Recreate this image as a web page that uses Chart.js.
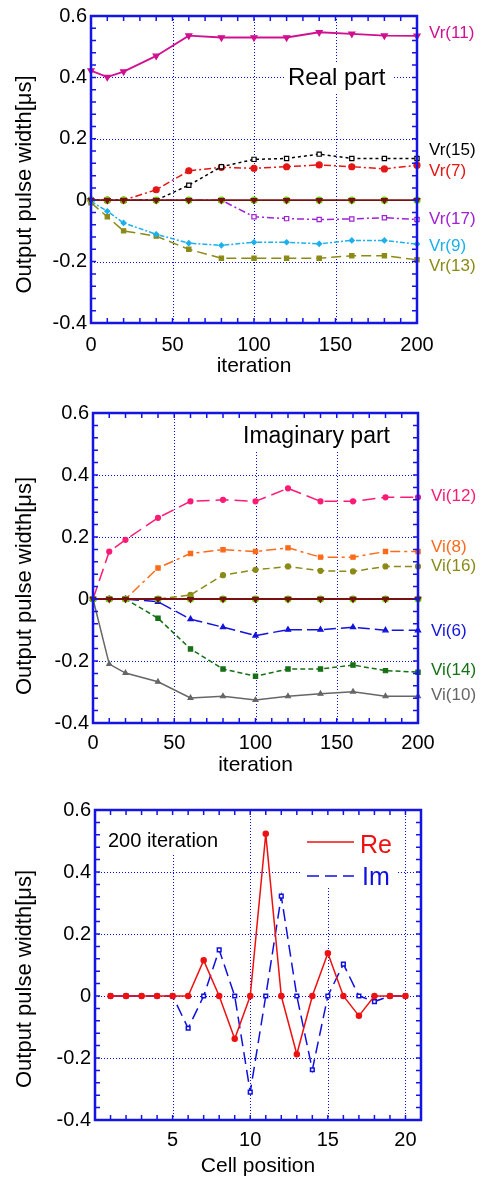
<!DOCTYPE html>
<html><head><meta charset="utf-8">
<script src="https://cdn.jsdelivr.net/npm/chart.js@4.4.1/dist/chart.umd.min.js"></script>
<style>
html,body{margin:0;padding:0;background:#fff;}
#wrap{position:relative;width:484px;height:1181px;overflow:hidden;background:#fff;}
.box{position:absolute;left:0;width:484px;}
</style></head><body>
<div id="wrap">
<div class="box" style="top:0;height:390px"><canvas id="c1"></canvas></div>
<div class="box" style="top:390px;height:400px"><canvas id="c2"></canvas></div>
<div class="box" style="top:790px;height:391px"><canvas id="c3"></canvas></div>
</div>
<script>
// ---------- data ----------
const iterations = [0,10,20,40,60,80,100,120,140,160,180,200];
const vr11 = [0.422,0.401,0.419,0.470,0.536,0.530,0.530,0.530,0.547,0.542,0.536,0.535];
const vr15 = [0,0,0,0,0.049,0.109,0.133,0.136,0.150,0.136,0.136,0.136];
const vr7  = [0,0,0,0.034,0.096,0.107,0.104,0.109,0.115,0.109,0.102,0.114];
const vr17 = [0,0,0,0,0,0,-0.054,-0.060,-0.063,-0.061,-0.057,-0.063];
const vr9  = [-0.004,-0.036,-0.074,-0.111,-0.140,-0.147,-0.137,-0.137,-0.142,-0.131,-0.131,-0.143];
const vr13 = [-0.008,-0.054,-0.100,-0.117,-0.160,-0.189,-0.189,-0.189,-0.189,-0.181,-0.181,-0.194];
const vrZero = [0,0,0,0,0,0,0,0,0,0,0,0];

const vi12 = [0,0.153,0.191,0.262,0.315,0.320,0.315,0.357,0.315,0.315,0.328,0.328];
const vi8  = [0,0,0,0.100,0.147,0.159,0.153,0.165,0.135,0.135,0.153,0.153];
const vi16 = [0,0,0,0,0.013,0.077,0.094,0.105,0.091,0.089,0.105,0.105];
const vi6  = [0,0,0,-0.009,-0.065,-0.091,-0.118,-0.099,-0.099,-0.091,-0.101,-0.101];
const vi14 = [0,0,0,-0.062,-0.161,-0.226,-0.249,-0.226,-0.226,-0.213,-0.231,-0.236];
const vi10 = [0,-0.210,-0.239,-0.267,-0.319,-0.314,-0.326,-0.314,-0.306,-0.299,-0.314,-0.314];
const viZero = [0,0,0,0,0,0,0,0,0,0,0,0];

const cells = [1,2,3,4,5,6,7,8,9,10,11,12,13,14,15,16,17,18,19,20];
const re200 = [0,0,0,0,0,0,0.115,0,-0.138,0,0.523,0,-0.188,0,0.138,0,-0.064,0,0,0];
const im200 = [0,0,0,0,0,-0.104,0,0.149,0,-0.310,0,0.322,0,-0.238,0,0.103,0,-0.018,0,0];

const yTicks = [-0.4,-0.2,0,0.2,0.4,0.6];
const iterTicks = [0,50,100,150,200];
const cellTicks = [5,10,15,20];

const realLabels = ['Vr(11)','Vr(15)','Vr(7)','Vr(17)','Vr(9)','Vr(13)'];
const realLabelY = [0.544,0.164,0.094,-0.063,-0.151,-0.216];
const imagLabels = ['Vi(12)','Vi(8)','Vi(16)','Vi(6)','Vi(14)','Vi(10)'];
const imagLabelY = [0.332,0.168,0.106,-0.103,-0.229,-0.310];

// ---------- style ----------
const FONT = "'Liberation Sans', Arial, Helvetica, sans-serif";
const FRAME = '#1414e6';
const GRID = '#0000ff';
Chart.defaults.font.family = FONT;
Chart.defaults.color = '#000';

function pts(xs, ys){ return xs.map((x,i)=>({x:x, y:ys[i]})); }
function fmt(v){ const n = Math.round(v*10)/10; return n===0 ? '0' : String(n); }

function ds(label, ys, color, opt){
  return Object.assign({
    label: label, data: pts(iterations, ys), borderColor: color, backgroundColor: color,
    pointBackgroundColor: color, pointBorderColor: color, borderWidth: 1.5,
    pointRadius: 3, pointBorderWidth: 1.2, pointStyle: 'circle', clip: false, order: 2
  }, opt||{});
}

function makeDeco(cfg){
  return {
    id: 'deco',
    beforeDatasetsDraw(chart){
      const {ctx, chartArea:a, scales:{x, y}} = chart;
      ctx.save();
      ctx.strokeStyle = GRID; ctx.lineWidth = 1; ctx.setLineDash([1,2]);
      cfg.xGrid.forEach(v=>{
        const p = Math.round(x.getPixelForValue(v)) + 0.5;
        ctx.beginPath(); ctx.moveTo(p, a.top); ctx.lineTo(p, a.bottom); ctx.stroke();
      });
      yTicks.slice(1,-1).forEach(v=>{
        const p = Math.round(y.getPixelForValue(v)) + 0.5;
        ctx.beginPath(); ctx.moveTo(a.left, p); ctx.lineTo(a.right, p); ctx.stroke();
      });
      ctx.setLineDash([]);
      (cfg.boxes||[]).forEach(b=>{ ctx.fillStyle = '#fff'; ctx.fillRect(b[0], b[1], b[2], b[3]); });
      (cfg.texts||[]).forEach(t=>{
        ctx.font = t.size + 'px ' + FONT; ctx.fillStyle = t.color || '#000';
        ctx.textAlign = 'left'; ctx.textBaseline = 'alphabetic';
        ctx.fillText(t.text, t.x, t.y);
      });
      ctx.restore();
    },
    afterDatasetsDraw(chart){
      const {ctx, chartArea:a, scales:{x, y}} = chart;
      ctx.save();
      ctx.strokeStyle = FRAME; ctx.lineWidth = 1.5;
      const L = 5;
      for (let v = x.min; v <= x.max + 1e-9; v += cfg.xMinor){
        const p = x.getPixelForValue(v);
        ctx.beginPath(); ctx.moveTo(p, a.bottom); ctx.lineTo(p, a.bottom - L);
        ctx.moveTo(p, a.top); ctx.lineTo(p, a.top + L); ctx.stroke();
      }
      for (let v = y.min; v <= y.max + 1e-9; v += 0.04){
        const p = y.getPixelForValue(v);
        ctx.beginPath(); ctx.moveTo(a.left, p); ctx.lineTo(a.left + L, p);
        ctx.moveTo(a.right, p); ctx.lineTo(a.right - L, p); ctx.stroke();
      }
      ctx.lineWidth = 2.5;
      ctx.strokeRect(a.left, a.top, a.right - a.left, a.bottom - a.top);
      ctx.restore();
    },
    afterDraw(chart){
      const {ctx, chartArea:a, scales:{y}} = chart;
      ctx.save();
      // y-axis title
      ctx.translate(25, (a.top + a.bottom)/2 + cfg.titleShift);
      ctx.rotate(-Math.PI/2);
      ctx.font = '22px ' + FONT; ctx.fillStyle = '#000';
      ctx.textAlign = 'center'; ctx.textBaseline = 'middle';
      ctx.fillText('Output pulse width[\u03bcs]', 0, 0);
      ctx.restore();
      // right-side series labels
      if (cfg.labels){
        ctx.save();
        ctx.font = '17px ' + FONT; ctx.textAlign = 'left'; ctx.textBaseline = 'middle';
        cfg.labels.forEach((lab, i)=>{
          ctx.fillStyle = cfg.labelColors[i];
          ctx.fillText(lab, a.right + cfg.labelGap, y.getPixelForValue(cfg.labelY[i]));
        });
        ctx.restore();
      }
      // inner legend
      if (cfg.legend){
        ctx.save();
        cfg.legend.forEach(l=>{
          const d = chart.data.datasets[l.ds];
          ctx.strokeStyle = d.borderColor; ctx.lineWidth = 1.5;
          ctx.setLineDash(d.borderDash || []);
          ctx.beginPath(); ctx.moveTo(l.x0, l.y); ctx.lineTo(l.x1, l.y); ctx.stroke();
          ctx.setLineDash([]);
          ctx.font = '25px ' + FONT; ctx.fillStyle = d.borderColor;
          ctx.textAlign = 'left'; ctx.textBaseline = 'alphabetic';
          ctx.fillText(d.label, l.tx, l.ty);
        });
        ctx.restore();
      }
    }
  };
}

function scalesCfg(xOpt){
  return {
    x: Object.assign({
      type: 'linear',
      grid: {display:false, drawTicks:false}, border: {display:false},
      ticks: {font:{size:20}, color:'#000', maxRotation:0, autoSkip:false, padding: xOpt.tickPad, callback: v=>String(v)},
      title: {display:true, text: xOpt.title, font:{size:21}, color:'#000', padding:{top:0, bottom: xOpt.titlePad}},
      afterBuildTicks: s => { s.ticks = xOpt.ticks.map(v=>({value:v})); },
      afterFit: s => { s.height = xOpt.height; }
    }, {min: xOpt.min, max: xOpt.max}),
    y: {
      min: -0.4, max: 0.6,
      grid: {display:false, drawTicks:false}, border: {display:false},
      ticks: {font:{size:20}, color:'#000', padding: 4, callback: v=>fmt(v)},
      afterBuildTicks: s => { s.ticks = yTicks.map(v=>({value:v})); },
      afterFit: s => { s.width = xOpt.yWidth; }
    }
  };
}

function baseOptions(pad, xOpt){
  return {
    responsive: true, maintainAspectRatio: false, animation: false, devicePixelRatio: 1,
    layout: {padding: pad},
    plugins: {legend:{display:false}, tooltip:{enabled:false}},
    scales: scalesCfg(xOpt)
  };
}

const OPEN = '#ffffff';

// ---------- chart 1: real part ----------
new Chart(document.getElementById('c1'), {
  type: 'line',
  data: { datasets: [
    ds('Vr(11)', vr11, '#d1108f', {pointStyle:'triangle', pointRotation:180, pointRadius:3.5, borderWidth:1.8}),
    ds('Vr(15)', vr15, '#000000', {borderDash:[3,3], pointStyle:'rect', pointBackgroundColor:OPEN}),
    ds('Vr(7)',  vr7,  '#e41616', {borderDash:[7,3,2,3]}),
    ds('Vr(17)', vr17, '#9f22d4', {borderDash:[7,3,2,3], pointStyle:'rect', pointBackgroundColor:OPEN}),
    ds('Vr(9)',  vr9,  '#1cb0ec', {borderDash:[5,2,2,2], pointStyle:'rectRot', pointRadius:2.5}),
    ds('Vr(13)', vr13, '#8c8a16', {borderDash:[10,5], pointStyle:'rect'}),
    ds('zero-g', vrZero, '#66d400', {showLine:false, pointRadius:3, order:1}),
    ds('zero',   vrZero, '#7a1010', {pointStyle:'triangle', pointRotation:180, pointRadius:3.2, borderWidth:1.8, order:0})
  ]},
  options: baseOptions({left:0, right:67, top:15, bottom:0},
    {min:0, max:200, ticks:iterTicks, title:'iteration', tickPad:10, titlePad:11, height:67, yWidth:91}),
  plugins: [makeDeco({
    xGrid:[50,100,150], xMinor:10, titleShift:15,
    boxes:[[284,62,110,31]],
    texts:[{text:'Real part', x:288, y:85, size:24}],
    labels: realLabels, labelY: realLabelY, labelGap: 12,
    labelColors: ['#d1108f','#000000','#e41616','#9f22d4','#1cb0ec','#8c8a16']
  })]
});

// ---------- chart 2: imaginary part ----------
new Chart(document.getElementById('c2'), {
  type: 'line',
  data: { datasets: [
    ds('Vi(12)', vi12, '#ff1a75', {borderDash:[13,6], pointRadius:2.5}),
    ds('Vi(8)',  vi8,  '#ff6a1a', {borderDash:[10,4,3,4], pointStyle:'rect'}),
    ds('Vi(16)', vi16, '#8c8a16', {borderDash:[7,4], pointRadius:2.5}),
    ds('Vi(6)',  vi6,  '#1212dc', {borderDash:[12,5], pointStyle:'triangle'}),
    ds('Vi(14)', vi14, '#167016', {borderDash:[5,3], pointStyle:'rect'}),
    ds('Vi(10)', vi10, '#666666', {pointStyle:'triangle', pointRadius:2.8}),
    ds('zero-g', viZero, '#66d400', {showLine:false, pointRadius:3, order:1}),
    ds('zero',   viZero, '#7a1010', {pointStyle:'triangle', pointRotation:180, pointRadius:3.2, borderWidth:1.8, order:0})
  ]},
  options: baseOptions({left:0, right:66, top:23, bottom:0},
    {min:0, max:200, ticks:iterTicks, title:'iteration', tickPad:8, titlePad:12, height:67, yWidth:93}),
  plugins: [makeDeco({
    xGrid:[50,100,150], xMinor:10, titleShift:18,
    boxes:[[238,24,172,36]],
    texts:[{text:'Imaginary part', x:243, y:53, size:23}],
    labels: imagLabels, labelY: imagLabelY, labelGap: 13,
    labelColors: ['#ff1a75','#ff6a1a','#8c8a16','#1212dc','#167016','#666666']
  })]
});

// ---------- chart 3: 200 iteration ----------
new Chart(document.getElementById('c3'), {
  type: 'line',
  data: { datasets: [
    {label:'Re', data: pts(cells, re200), borderColor:'#ee1111', backgroundColor:'#ee1111',
     pointBackgroundColor:'#ee1111', pointBorderColor:'#ee1111', borderWidth:1.5, pointRadius:2.5, clip:false, order:0},
    {label:'Im', data: pts(cells, im200), borderColor:'#1010dd', backgroundColor:'#1010dd', borderDash:[12,6],
     pointBackgroundColor:'#ffffff', pointBorderColor:'#1010dd', pointStyle:'rect', pointBorderWidth:1.5,
     borderWidth:1.5, pointRadius:2.6, clip:false, order:1}
  ]},
  options: baseOptions({left:0, right:63, top:20, bottom:0},
    {min:0, max:21, ticks:cellTicks, title:'Cell position', tickPad:8, titlePad:2, height:61, yWidth:95}),
  plugins: [makeDeco({
    xGrid:[5,10,15,20], xMinor:1, titleShift:14,
    boxes:[[100,21,142,42],[300,21,97,77]],
    texts:[{text:'200 iteration', x:108, y:57, size:20}],
    legend:[{ds:0, x0:307, x1:354, y:52, tx:360, ty:63},{ds:1, x0:307, x1:354, y:86, tx:362, ty:95}]
  })]
});
</script>
</body></html>
